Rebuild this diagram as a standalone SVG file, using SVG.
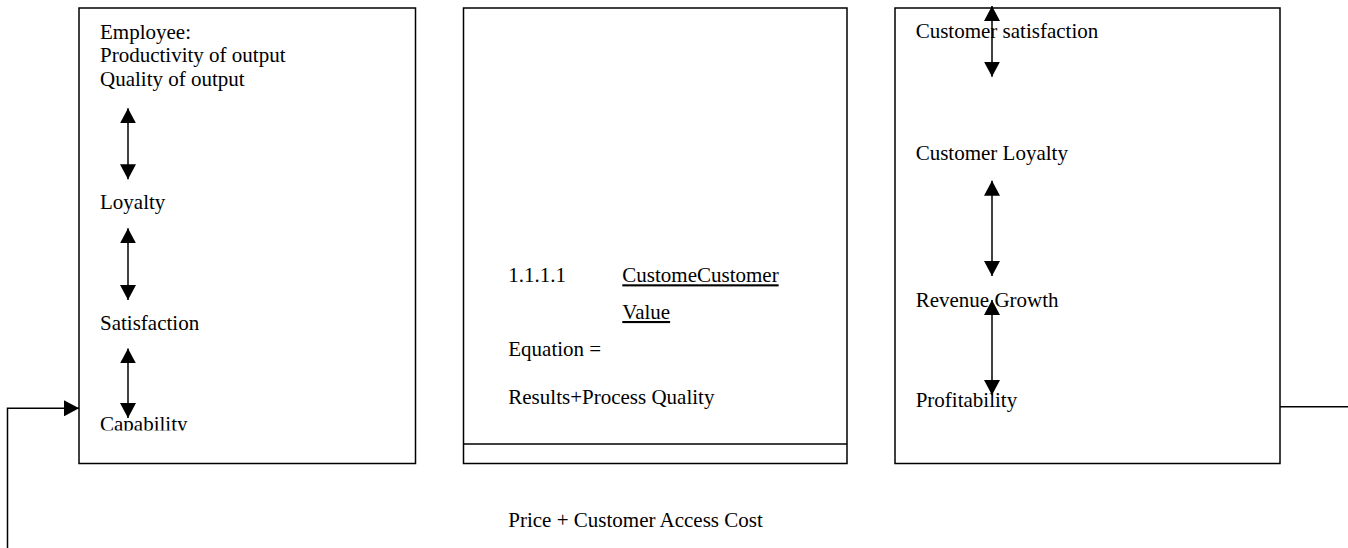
<svg xmlns="http://www.w3.org/2000/svg" width="1348" height="548" viewBox="0 0 1348 548">
<style>
.box{fill:#fff;stroke:#000;stroke-width:1.5}
.t{font-family:"Liberation Serif","Times New Roman",serif;font-size:21px;fill:#000}
.u{text-decoration:underline}
.ln{fill:none;stroke:#000;stroke-width:1.5}
.dbl{fill:none;stroke:#000;stroke-width:1.5;marker-start:url(#ah);marker-end:url(#ah)}
</style>
<defs>
<marker id="ah" viewBox="0 0 15 16" refX="15" refY="8" markerWidth="15" markerHeight="16" markerUnits="userSpaceOnUse" orient="auto-start-reverse">
<path d="M0,0 L15,8 L0,16 Z" fill="#000"/>
</marker>
<clipPath id="capclip"><rect x="79" y="8" width="337" height="422.5"/></clipPath>
</defs>
<rect width="1348" height="548" fill="#fff"/>
<g id="employee">
<rect class="box" x="79" y="8" width="336.5" height="455.5"/>
<text class="t" x="100" y="38.5">Employee:</text>
<text class="t" x="100" y="62">Productivity of output</text>
<text class="t" x="100" y="85.5">Quality of output</text>
<text class="t" x="100" y="208.5">Loyalty</text>
<text class="t" x="100" y="330">Satisfaction</text>
<text class="t" x="100" y="431" clip-path="url(#capclip)">Capability</text>
</g>
<g id="value-equation">
<rect class="box" x="463.5" y="8" width="383.5" height="455.5"/>
<line class="ln" x1="463.5" y1="444" x2="847" y2="444"/>
<text class="t" x="508.3" y="282.3">1.1.1.1</text>
<text class="t u" x="622.3" y="282.3">CustomeCustomer</text>
<text class="t u" x="622.3" y="319">Value</text>
<text class="t" x="508.3" y="355.7">Equation =</text>
<text class="t" x="508.3" y="404">Results+Process Quality</text>
</g>
<g id="customer">
<rect class="box" x="895" y="8" width="385" height="455.5"/>
<text class="t" x="915.7" y="38.3">Customer satisfaction</text>
<text class="t" x="915.7" y="160">Customer Loyalty</text>
<text class="t" x="915.7" y="306.7">Revenue Growth</text>
<text class="t" x="915.7" y="406.7">Profitability</text>
</g>
<g id="price-label">
<text class="t" x="508.3" y="526.7">Price + Customer Access Cost</text>
</g>
<g id="connectors">
<line class="dbl" x1="128" y1="108.3" x2="128" y2="179.3"/>
<line class="dbl" x1="128" y1="228.3" x2="128" y2="300"/>
<line class="dbl" x1="128" y1="348.4" x2="128" y2="418"/>
<line class="dbl" x1="992" y1="6" x2="992" y2="76.7"/>
<line class="dbl" x1="992" y1="180.7" x2="992" y2="276"/>
<line class="dbl" x1="992" y1="300" x2="992" y2="395"/>
<path class="ln" d="M7.5,548 L7.5,408.3 L79,408.3" marker-end="url(#ah)"/>
<line class="ln" x1="1280" y1="406.7" x2="1348" y2="406.7"/>
</g>
</svg>
